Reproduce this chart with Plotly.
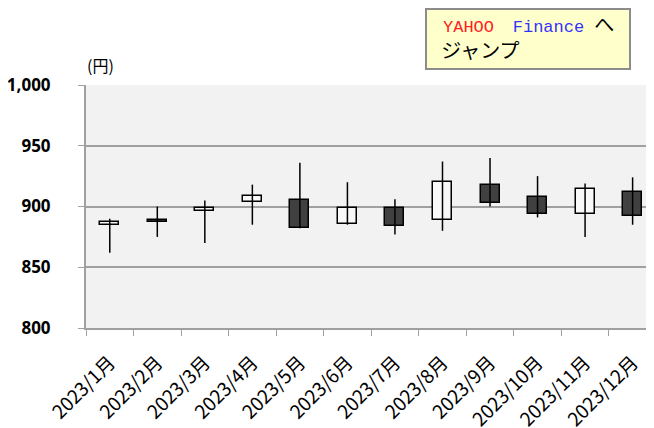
import plotly.graph_objects as go

months = ["2023/1月", "2023/2月", "2023/3月", "2023/4月", "2023/5月", "2023/6月",
          "2023/7月", "2023/8月", "2023/9月", "2023/10月", "2023/11月", "2023/12月"]
open_ = [885, 889, 896, 904, 905, 886, 899, 889, 918, 908, 894, 912]
high = [890, 900, 905, 918, 936, 920, 906, 937, 940, 925, 919, 924]
low = [862, 875, 870, 885, 882, 885, 877, 880, 900, 891, 875, 885]
close = [887, 887, 899, 909, 882, 899, 884, 920, 903, 894, 914, 892]
y_ticks = [800, 850, 900, 950, 1000]
y_tick_text = ["800", "850", "900", "950", "1,000"]

fig = go.Figure()

# wicks
wx, wy = [], []
for m, h, l in zip(months, high, low):
    wx += [m, m, None]
    wy += [l, h, None]
fig.add_trace(go.Scatter(x=wx, y=wy, mode="lines", line=dict(color="black", width=1.5),
                         hoverinfo="skip", showlegend=False))

# bodies
base = [min(o, c) for o, c in zip(open_, close)]
height = [abs(c - o) for o, c in zip(open_, close)]
colors = ["#f8f8f8" if c >= o else "#404040" for o, c in zip(open_, close)]
fig.add_trace(go.Bar(x=months, y=height, base=base, width=0.4,
                     marker=dict(color=colors, line=dict(color="black", width=1.5)),
                     showlegend=False))

L, T, B = 78, 77, 100
W, H = 646, 420
PH = H - T - B

box_text = ("\u00a0<span style='font-size:17px;color:#ff2020'>YAHOO</span>"
            "<span style='font-size:17px'> \u2002</span>"
            "<span style='font-size:17px;color:#3333ff'>Finance</span>"
            "<span style='font-size:17px'> </span>へ"
            "<br><span style='font-size:17px'>\u00a0</span>ジャンプ")

fig.update_layout(
    width=W, height=H,
    margin=dict(l=L, r=0, t=T, b=B),
    paper_bgcolor="white", plot_bgcolor="#f2f2f2",
    bargap=0,
    xaxis=dict(type="category", range=[-0.5, 11.45], showgrid=False, automargin=False,
               showline=True, linecolor="#a0a0a0", linewidth=2,
               ticks="outside", tickson="boundaries", ticklen=6, tickcolor="#a0a0a0",
               ticklabelstandoff=14,
               tickangle=-45, tickfont=dict(family="Noto Sans CJK JP", size=19, color="black")),
    yaxis=dict(range=[800, 1000], tickvals=y_ticks, ticktext=y_tick_text, automargin=False,
               showgrid=True, gridcolor="#a0a0a0", gridwidth=1.5,
               showline=True, linecolor="#a0a0a0", linewidth=2,
               ticks="outside", ticklen=6, tickcolor="#a0a0a0", ticklabelstandoff=24,
               tickfont=dict(family="Open Sans", size=17, color="black", weight="bold"),
               zeroline=False),
    annotations=[
        dict(text="(円)", xref="paper", yref="paper", x=-1 / (W - L), y=1.0,
             xanchor="left", yanchor="bottom",
             yshift=6, showarrow=False, font=dict(family="Noto Sans CJK JP", size=16, color="black")),
        dict(text=box_text,
             xref="paper", yref="paper", x=(417 - L) / (W - L), y=1 + T / PH,
             xanchor="left", yanchor="top", align="left", valign="middle", showarrow=False,
             font=dict(family="Liberation Mono, Noto Sans CJK JP", size=20, color="black"),
             bgcolor="#ffffcc", bordercolor="#8c8c8c", borderwidth=2, borderpad=4,
             width=194, height=50),
    ],
)

fig.write_html("out.html")
